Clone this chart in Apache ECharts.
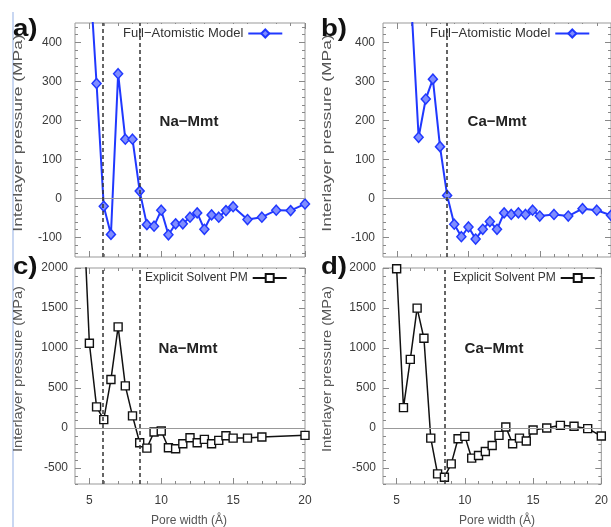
<!DOCTYPE html>
<html><head><meta charset="utf-8">
<script src="https://cdn.jsdelivr.net/npm/echarts@6/dist/echarts.min.js"></script>
<style>html,body{margin:0;padding:0;background:#fff}#c{width:611px;height:527px}</style>
</head><body><div id="c"></div>
<script>
// ---- data ----
const xTickLabels = [5, 10, 15, 20];
const upperYTicks = [-100, 0, 100, 200, 300, 400];
const lowerYTicks = [-500, 0, 500, 1000, 1500, 2000];

const naFA_x = [5,5.5,6,6.5,7,7.5,8,8.5,9,9.5,10,10.5,11,11.5,12,12.5,13,13.5,14,14.5,15,16,17,18,19,20];
const naFA_y = [590,295,-20,-92,320,152,152,19,-67,-71,-30,-93,-65,-65,-48,-37,-79,-42,-48,-31,-21,-54,-48,-30,-31,-14];

const caFA_x = [6,6.5,7,7.5,8,8.5,9,9.5,10,10.5,11,11.5,12,12.5,13,13.5,14,14.5,15,16,17,18,19,20];
const caFA_y = [490,157,255,306,133,8,-66,-98,-73,-104,-79,-59,-79,-37,-41,-37,-41,-30,-45,-41,-45,-26,-30,-43];

const naPM_x = [4.5,5,5.5,6,6.5,7,7.5,8,8.5,9,9.5,10,10.5,11,11.5,12,12.5,13,13.5,14,14.5,15,16,17,20];
const naPM_y = [3080,1059,264,105,607,1264,527,151,-184,-251,-50,-38,-247,-259,-197,-121,-184,-142,-197,-155,-96,-126,-126,-113,-92];

const caPM_x = [5,5.5,6,6.5,7,7.5,8,8.5,9,9.5,10,10.5,11,11.5,12,12.5,13,13.5,14,14.5,15,16,17,18,19,20];
const caPM_y = [1990,255,858,1498,1121,-126,-573,-615,-448,-134,-105,-377,-343,-293,-218,-92,13,-197,-126,-163,-25,0,33,21,-8,-100];

const naDash = [5.9, 8.5];
const caDash = [8.5];

const nameFA = 'Full\u2212Atomistic Model';
const namePM = 'Explicit Solvent PM';
const yName = 'Interlayer pressure (MPa)';
const xName = 'Pore width (\u00C5)';

// ---- helpers ----
function range(a, b, s) { const r = []; for (let v = a; v <= b + 1e-9; v += s) r.push(+v.toFixed(6)); return r; }
const tickColor = '#888';
const labelColor = '#3a3a3a';
const FONT = 'Liberation Sans';
const fmt = v => String(v);

const grids = [
  {left: 75, top: 23, width: 230, height: 234},
  {left: 383, top: 23, width: 230, height: 234},
  {left: 75, top: 268, width: 230, height: 216},
  {left: 383, top: 268, width: 230, height: 216}
];
const xAxes = [], yAxes = [];
const majorIdx = [];
function addAxes(g, ymin, ymax, yMajor, yMinorStep, showX, yMargin) {
  const xMinor = range(5, 19, 1);
  const yMinor = range(Math.ceil(ymin / yMinorStep) * yMinorStep, ymax, yMinorStep);
  const base = {gridIndex: g, type: 'value', splitLine: {show: false}, axisLine: {show: false, onZero: false}};
  const xi = xAxes.length, yi = yAxes.length;
  ['bottom', 'top'].forEach(pos => {
    xAxes.push(Object.assign({}, base, {position: pos, min: 4, max: 20,
      axisTick: {show: true, inside: true, length: 6, customValues: xTickLabels, lineStyle: {color: tickColor}},
      axisLabel: {show: showX && pos === 'bottom', customValues: xTickLabels, formatter: fmt, margin: 11, fontSize: 12, color: labelColor, fontFamily: FONT}}));
    xAxes.push(Object.assign({}, base, {position: pos, min: 4, max: 20,
      axisTick: {show: true, inside: true, length: 3, customValues: xMinor, lineStyle: {color: tickColor}},
      axisLabel: {show: false}}));
  });
  ['left', 'right'].forEach(pos => {
    yAxes.push(Object.assign({}, base, {position: pos, min: ymin, max: ymax,
      axisTick: {show: true, inside: true, length: 6, customValues: yMajor, lineStyle: {color: tickColor}},
      axisLabel: {show: pos === 'left', customValues: yMajor, formatter: fmt, margin: yMargin, fontSize: 12, color: labelColor, fontFamily: FONT}}));
    yAxes.push(Object.assign({}, base, {position: pos, min: ymin, max: ymax,
      axisTick: {show: true, inside: true, length: 3, customValues: yMinor, lineStyle: {color: tickColor}},
      axisLabel: {show: false}}));
  });
  majorIdx.push([xi, yi]);
}
addAxes(0, -150, 450, upperYTicks, 20, false, 13);
addAxes(1, -150, 450, upperYTicks, 20, false, 8);
addAxes(2, -700, 2000, lowerYTicks, 100, true, 7);
addAxes(3, -700, 2000, lowerYTicks, 100, true, 7);

function markLines(dashes) {
  const d = [{yAxis: 0, lineStyle: {color: '#999', width: 1.2, type: 'solid'}}];
  dashes.forEach(x => d.push({xAxis: x, lineStyle: {color: '#333', width: 1.5, type: [4, 3]}}));
  return {silent: true, symbol: 'none', label: {show: false}, animation: false, data: d};
}
const blue = '#2038ff';
function faSeries(g, xs, ys, dashes) {
  return {type: 'line', name: nameFA, xAxisIndex: majorIdx[g][0], yAxisIndex: majorIdx[g][1],
    data: xs.map((x, i) => [x, ys[i]]), clip: true, z: 3,
    symbol: 'diamond', symbolSize: [9, 10],
    lineStyle: {color: blue, width: 2},
    itemStyle: {color: '#7f8dff', borderColor: blue, borderWidth: 1.5},
    markLine: markLines(dashes)};
}
function pmSeries(g, xs, ys, dashes) {
  return {type: 'line', name: namePM, xAxisIndex: majorIdx[g][0], yAxisIndex: majorIdx[g][1],
    data: xs.map((x, i) => [x, ys[i]]), clip: true, z: 3,
    symbol: 'rect', symbolSize: 8,
    lineStyle: {color: '#111', width: 1.5},
    itemStyle: {color: '#fff', borderColor: '#111', borderWidth: 1.4},
    markLine: markLines(dashes)};
}
function legend(name, left, top, fs) {
  return {data: [name], left: left, top: top, align: 'right', selectedMode: false,
    itemWidth: 34, itemHeight: 10, padding: [3, 4, 3, 3], backgroundColor: '#fff',
    textStyle: {fontSize: fs, color: '#333', fontFamily: FONT}};
}
function txt(x, y, s, fs, opts) {
  return Object.assign({type: 'text', x: x, y: y, silent: true,
    style: Object.assign({text: s, fontSize: fs, fontFamily: FONT, fill: '#222', align: 'center', verticalAlign: 'middle'}, opts && opts.style || {})},
    opts && opts.el || {});
}
const boldLbl = {style: {fontWeight: 'bold', align: 'left', fill: '#111'}, el: {scaleX: 1.15}};

const option = {
  animation: false,
  backgroundColor: '#fff',
  grid: grids.map(g => Object.assign({show: true, borderColor: '#999', borderWidth: 1, backgroundColor: 'transparent'}, g)),
  xAxis: xAxes,
  yAxis: yAxes,
  legend: [legend(nameFA, 120, 24, 13), legend(nameFA, 427, 24, 13), legend(namePM, 142, 269, 12), legend(namePM, 450, 269, 12)],
  series: [
    faSeries(0, naFA_x, naFA_y, naDash),
    faSeries(1, caFA_x, caFA_y, caDash),
    pmSeries(2, naPM_x, naPM_y, naDash),
    pmSeries(3, caPM_x, caPM_y, caDash)
  ],
  graphic: [
    {type: 'rect', shape: {x: 12, y: 12, width: 2, height: 515}, style: {fill: '#c9d7f2'}, silent: true},
    txt(13, 29, 'a)', 24, boldLbl),
    txt(321, 29, 'b)', 24, boldLbl),
    txt(13, 267, 'c)', 24, boldLbl),
    txt(321, 267, 'd)', 24, boldLbl),
    txt(189, 122, 'Na\u2212Mmt', 15, {style: {fontWeight: 'bold'}}),
    txt(497, 122, 'Ca\u2212Mmt', 15, {style: {fontWeight: 'bold'}}),
    txt(188, 349, 'Na\u2212Mmt', 15, {style: {fontWeight: 'bold'}}),
    txt(494, 349, 'Ca\u2212Mmt', 15, {style: {fontWeight: 'bold'}}),
    txt(19, 133, yName, 12, {style: {fill: '#555'}, el: {rotation: Math.PI / 2, scaleX: 1.45}}),
    txt(328, 133, yName, 12, {style: {fill: '#555'}, el: {rotation: Math.PI / 2, scaleX: 1.45}}),
    txt(19, 369, yName, 12, {style: {fill: '#555'}, el: {rotation: Math.PI / 2, scaleX: 1.22}}),
    txt(328, 369, yName, 12, {style: {fill: '#555'}, el: {rotation: Math.PI / 2, scaleX: 1.22}}),
    txt(189, 521, xName, 12, {style: {fill: '#555'}}),
    txt(497, 521, xName, 12, {style: {fill: '#555'}})
  ]
};
const chart = echarts.init(document.getElementById('c'), null, {renderer: 'canvas'});
chart.setOption(option);
</script>
</body></html>
